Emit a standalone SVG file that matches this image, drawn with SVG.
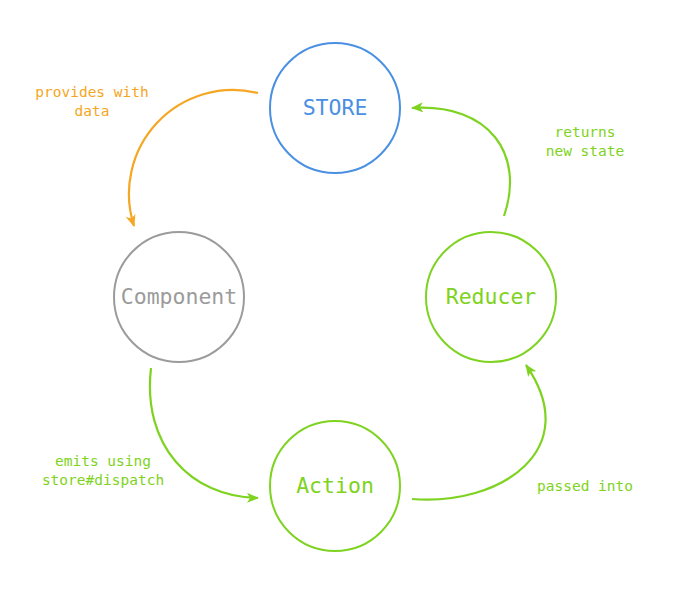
<svg xmlns="http://www.w3.org/2000/svg" width="681" height="615" viewBox="0 0 681 615">
<style>
.node{fill:none;stroke-width:2}
.lbl{font-family:"DejaVu Sans Mono","Liberation Mono",monospace;font-size:21.5px;text-anchor:middle}
.sm{font-family:"DejaVu Sans Mono","Liberation Mono",monospace;font-size:14.5px;text-anchor:middle}
.edge{fill:none;stroke-width:2.2}
</style>
<defs>
<marker id="ao" markerUnits="userSpaceOnUse" markerWidth="12" markerHeight="10" refX="11" refY="5" orient="auto"><path d="M0,0 L12,5 L0,10 L3,5 Z" fill="#F5A623"/></marker>
<marker id="ag" markerUnits="userSpaceOnUse" markerWidth="12" markerHeight="10" refX="11" refY="5" orient="auto"><path d="M0,0 L12,5 L0,10 L3,5 Z" fill="#7ED321"/></marker>
</defs>
<rect width="681" height="615" fill="#fff"/>
<g id="connectors">
<path class="edge" stroke="#F5A623" d="M258,93 A104,104 0 0 0 134,226" marker-end="url(#ao)"/>
<path class="edge" stroke="#7ED321" d="M504,216 C525,155 490,103 412,108" marker-end="url(#ag)"/>
<path class="edge" stroke="#7ED321" d="M151,368 C142,445 190,497 258,498" marker-end="url(#ag)"/>
<path class="edge" stroke="#7ED321" d="M412,499 C500,506 585,450 526,365" marker-end="url(#ag)"/>
<text class="sm" fill="#F5A623" x="92" y="97">provides with</text>
<text class="sm" fill="#F5A623" x="92" y="116">data</text>
<text class="sm" fill="#7ED321" x="585" y="137">returns</text>
<text class="sm" fill="#7ED321" x="585" y="156">new state</text>
<text class="sm" fill="#7ED321" x="103" y="466">emits using</text>
<text class="sm" fill="#7ED321" x="103" y="485">store#dispatch</text>
<text class="sm" fill="#7ED321" x="585" y="491">passed into</text>
</g>
<g id="store"><circle class="node" cx="335" cy="108" r="65" stroke="#4A90E2"/><text class="lbl" x="335" y="115" fill="#4A90E2">STORE</text></g>
<g id="component"><circle class="node" cx="179" cy="297" r="65" stroke="#9B9B9B"/><text class="lbl" x="179" y="304" fill="#9B9B9B">Component</text></g>
<g id="reducer"><circle class="node" cx="491" cy="297" r="65" stroke="#7ED321"/><text class="lbl" x="491" y="304" fill="#7ED321">Reducer</text></g>
<g id="action"><circle class="node" cx="335" cy="486" r="65" stroke="#7ED321"/><text class="lbl" x="335" y="493" fill="#7ED321">Action</text></g>
</svg>
